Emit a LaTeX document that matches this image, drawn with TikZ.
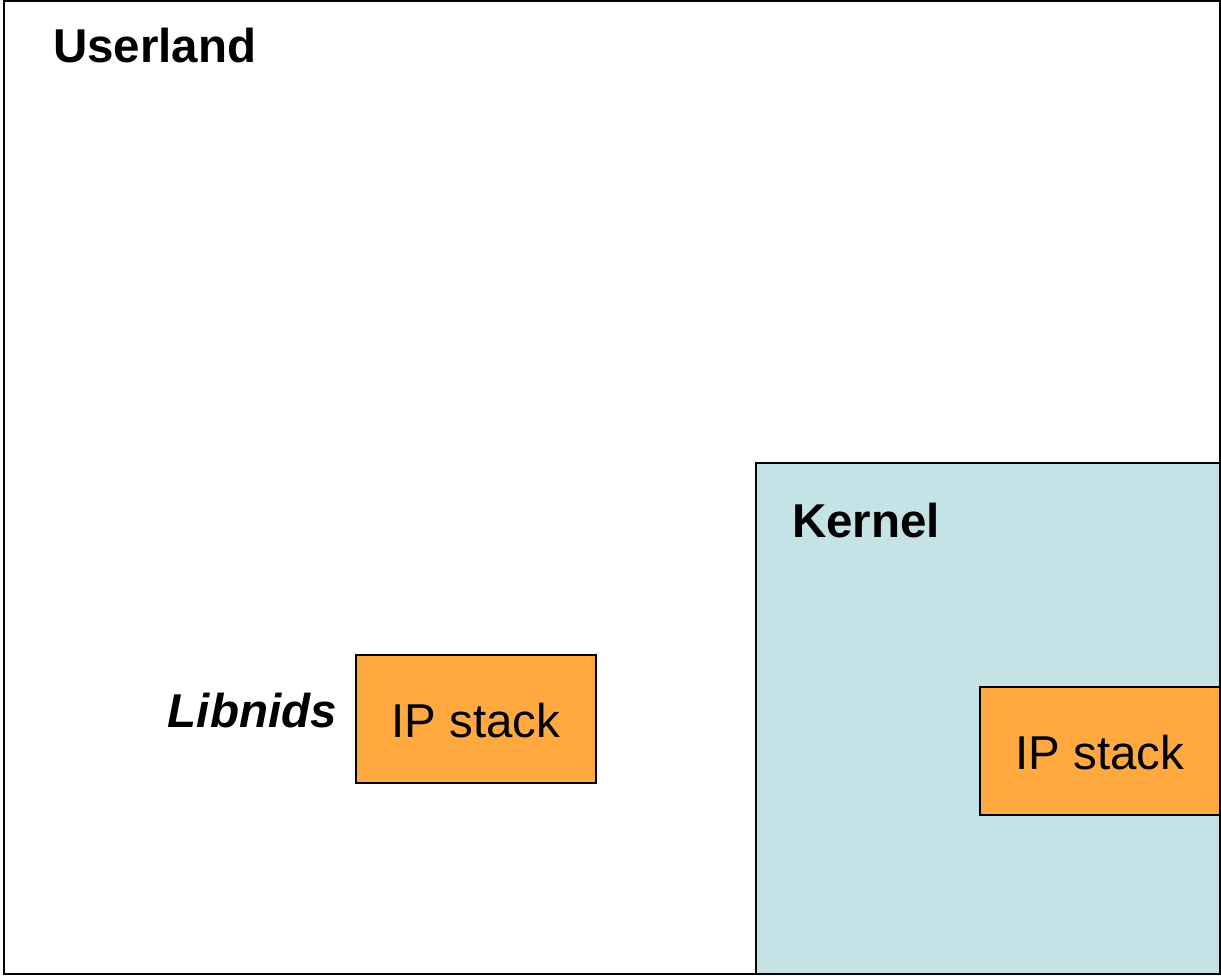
\documentclass[tikz,border=0pt]{standalone}
\usepackage{fontspec}
\setmainfont{Liberation Sans}
\definecolor{kernelfill}{HTML}{C5E3E7}
\definecolor{stackfill}{HTML}{FFA940}
\begin{document}
\begin{tikzpicture}[x=1pt,y=-1pt,
  region/.style={draw=black,line width=1.3pt},
  stackbox/.style={draw=black,line width=1.3pt,fill=stackfill},
  heading/.style={font=\fontsize{47.5}{54}\selectfont\bfseries,anchor=base west,inner sep=0pt},
  stacklabel/.style={font=\fontsize{47.5}{54}\selectfont,anchor=base,inner sep=0pt}]
\useasboundingbox (0,0) rectangle (1221,976);
% whole machine: user space
\draw[region,fill=white] (4,1) rectangle (1220,974);
\node[heading] (userland) at (53,63) {Userland};
% kernel space
\draw[region,fill=kernelfill] (756,463) rectangle (1220,974);
\node[heading] (kernel) at (792,537) {Kernel};
% user-space IP stack provided by libnids
\draw[stackbox] (356,655) rectangle (596,783);
\node[stacklabel] (ipuser) at (476,737) {IP stack};
\node[heading,font=\fontsize{47.5}{54}\selectfont\bfseries\itshape,anchor=base east] (libnids) at (337,727) {Libnids};
% kernel IP stack
\draw[stackbox] (980,687) rectangle (1220,815);
\node[stacklabel] (ipkernel) at (1100,769) {IP stack};
\end{tikzpicture}
\end{document}
